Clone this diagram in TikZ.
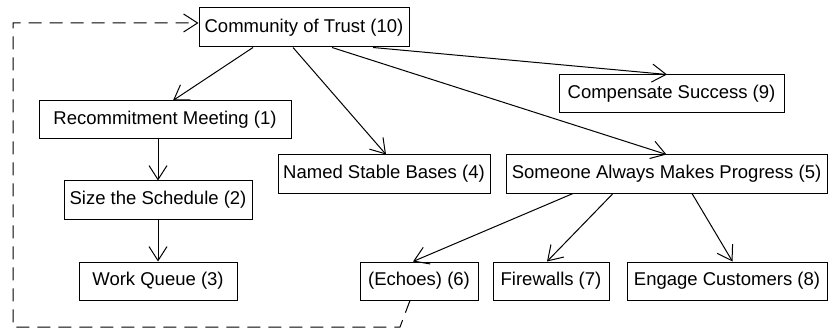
\documentclass[tikz,border=0pt]{standalone}
\usepackage{fontspec}
\setmainfont{Liberation Sans}
\usetikzlibrary{arrows.meta}

\tikzset{
  box/.style={draw, line width=0.5pt, inner sep=0pt, minimum height=19pt,
    font=\fontsize{9.25}{11}\selectfont},
  link/.style={line width=0.5pt, -{Straight Barb[length=7pt,width=9pt]}},
  backlink/.style={link, dash pattern=on 6.5pt off 4pt}
}

\begin{document}
\begin{tikzpicture}[x=0.5pt, y=-0.5pt]
\useasboundingbox (0,0) rectangle (828,331);

\node[box, minimum width=105pt, minimum height=19.5pt] (trust) at (304, 27.5) {Community of Trust (10)};

\node[box, minimum width=126pt] (recommit) at (165, 120) {Recommitment Meeting (1)};
\node[box, minimum width=94pt] (size) at (158, 200) {Size the Schedule (2)};
\node[box, minimum width=79pt] (workq) at (158, 281) {Work Queue (3)};

\node[box, minimum width=106pt] (named) at (384, 174) {Named Stable Bases (4)};
\node[box, minimum width=160.5pt] (someone) at (666.5, 174) {Someone Always Makes Progress (5)};
\node[box, minimum width=112.5pt] (compensate) at (671.5, 94) {Compensate Success (9)};

\node[box, minimum width=59pt] (echoes) at (419, 281) {(Echoes) (6)};
\node[box, minimum width=58pt] (firewalls) at (551, 281) {Firewalls (7)};
\node[box, minimum width=100pt] (engage) at (727, 281) {Engage Customers (8)};

\coordinate (bend) at (400, 327);
\coordinate (lowleft) at (13, 327);
\coordinate (upleft) at (13, 23);

\draw[link] ([xshift=-25.5pt]trust.south) -- ([xshift=4pt]recommit.north);
\draw[link] ([xshift=-5.5pt]trust.south) -- ([xshift=1pt]named.north);
\draw[link] ([xshift=14pt]trust.south) -- (someone.north);
\draw[link] ([xshift=34.5pt]trust.south) -- ([xshift=-2.25pt]compensate.north);

\draw[link] (recommit.south -| size.north) -- (size.north);
\draw[link] (size.south) -- (workq.north);

\draw[link] ([xshift=-46.75pt]someone.south) -- ([xshift=-3pt]echoes.north);
\draw[link] ([xshift=-26.75pt]someone.south) -- ([xshift=-2pt]firewalls.north);
\draw[link] ([xshift=12.75pt]someone.south) -- ([xshift=2.75pt]engage.north);

\draw[backlink] ([xshift=-4.5pt]echoes.south) -- (bend) -- (lowleft) -- (upleft)
  -- ([yshift=2.25pt]trust.west);

\end{tikzpicture}
\end{document}
